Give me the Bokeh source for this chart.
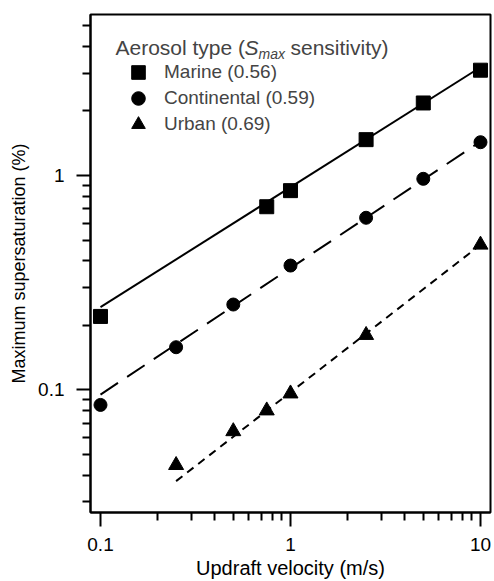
from bokeh.plotting import figure
from bokeh.models import (Range1d, FixedTicker, CustomJSTickFormatter, Legend, LegendItem, Label)
from bokeh.embed import file_html
from bokeh.resources import INLINE

# ---- data ----
marine_x = [0.1, 0.75, 1.0, 2.5, 5.0, 10.0]
marine_y = [0.22, 0.715, 0.85, 1.47, 2.18, 3.1]
continental_x = [0.1, 0.25, 0.5, 1.0, 2.5, 5.0, 10.0]
continental_y = [0.085, 0.158, 0.25, 0.38, 0.635, 0.965, 1.43]
urban_x = [0.25, 0.5, 0.75, 1.0, 2.5, 10.0]
urban_y = [0.0445, 0.064, 0.080, 0.096, 0.18, 0.475]

# power-law fit lines (end points)
marine_fit_x = [0.1, 10.0]
marine_fit_y = [0.243, 3.2]
continental_fit_x = [0.1, 10.0]
continental_fit_y = [0.095, 1.44]
urban_fit_x = [0.25, 10.0]
urban_fit_y = [0.0375, 0.475]

series_labels = ["Marine (0.56)", "Continental (0.59)", "Urban (0.69)"]

x_major = [0.1, 1, 10]
x_minor = [0.2, 0.3, 0.4, 0.5, 0.6, 0.7, 0.8, 0.9, 2, 3, 4, 5, 6, 7, 8, 9]
y_major = [0.1, 1]
y_minor = [0.03, 0.04, 0.05, 0.06, 0.07, 0.08, 0.09,
           0.2, 0.3, 0.4, 0.5, 0.6, 0.7, 0.8, 0.9, 2, 3, 4, 5]

FONT = "Liberation Sans"

p = figure(width=494, height=581, x_axis_type="log", y_axis_type="log",
           x_range=Range1d(0.0886, 11.29), y_range=Range1d(0.02676, 5.64),
           output_backend="svg", toolbar_location=None,
           min_border_left=90, min_border_right=4, min_border_top=14, min_border_bottom=69)
p.background_fill_color = "white"
p.border_fill_color = "white"
p.outline_line_color = "black"
p.outline_line_width = 2
p.xgrid.visible = False
p.ygrid.visible = False

fmt = CustomJSTickFormatter(code="return tick.toString();")
for ax, maj, mnr in ((p.xaxis[0], x_major, x_minor), (p.yaxis[0], y_major, y_minor)):
    ax.ticker = FixedTicker(ticks=maj, minor_ticks=mnr)
    ax.formatter = fmt
    ax.axis_line_color = "black"
    ax.axis_line_width = 2
    ax.major_tick_in = 0
    ax.major_tick_out = 14
    ax.minor_tick_in = 0
    ax.minor_tick_out = 8
    ax.major_tick_line_width = 2
    ax.minor_tick_line_width = 2
    ax.major_label_text_font = FONT
    ax.major_label_text_font_size = "19px"
    ax.major_label_text_color = "black"
    ax.axis_label_text_font = FONT
    ax.axis_label_text_font_style = "normal"
    ax.axis_label_text_color = "black"

p.xaxis.axis_label = "Updraft velocity (m/s)"
p.xaxis.axis_label_text_font_size = "20px"
p.xaxis.major_label_standoff = 11
p.xaxis.axis_label_standoff = 3
p.yaxis.axis_label = "Maximum supersaturation (%)"
p.yaxis.axis_label_text_font_size = "18px"
p.yaxis.major_label_standoff = 12
p.yaxis.axis_label_standoff = 6

# fit lines
p.line(marine_fit_x, marine_fit_y, line_color="black", line_width=2)
p.line(continental_fit_x, continental_fit_y, line_color="black", line_width=2, line_dash="21 11")
p.line(urban_fit_x, urban_fit_y, line_color="black", line_width=2, line_dash="8 6")

# markers
r_m = p.scatter(marine_x, marine_y, marker="square", size=14, color="black")
r_c = p.scatter(continental_x, continental_y, marker="circle", size=13, color="black")
r_u = p.scatter(urban_x, urban_y, marker="triangle", size=15, color="black")

# one single-item legend per row, so that the rows sit 26 px apart
for label, rend, loc_y in ((series_labels[0], r_m, 423),
                           (series_labels[1], r_c, 397),
                           (series_labels[2], r_u, 371)):
    lg = Legend(items=[LegendItem(label=label, renderers=[rend])],
                location=(31, loc_y), glyph_width=34, glyph_height=34,
                padding=0, margin=0, border_line_color=None, background_fill_alpha=0,
                label_text_font=FONT, label_text_font_size="19px", label_standoff=9)
    p.add_layout(lg)

# legend title with subscript, built from text pieces
title_y = 465
p.add_layout(Label(x=25, y=title_y, x_units="screen", y_units="screen", text="Aerosol type (",
                   text_font=FONT, text_font_size="21px", text_baseline="alphabetic"))
p.add_layout(Label(x=154, y=title_y, x_units="screen", y_units="screen", text="S",
                   text_font=FONT, text_font_size="21px", text_font_style="italic",
                   text_baseline="alphabetic"))
p.add_layout(Label(x=168, y=title_y - 6, x_units="screen", y_units="screen", text="max",
                   text_font=FONT, text_font_size="14px", text_font_style="italic",
                   text_baseline="alphabetic"))
p.add_layout(Label(x=200, y=title_y, x_units="screen", y_units="screen", text="sensitivity)",
                   text_font=FONT, text_font_size="21px", text_baseline="alphabetic"))

open("out.html", "w").write(file_html(p, INLINE))
